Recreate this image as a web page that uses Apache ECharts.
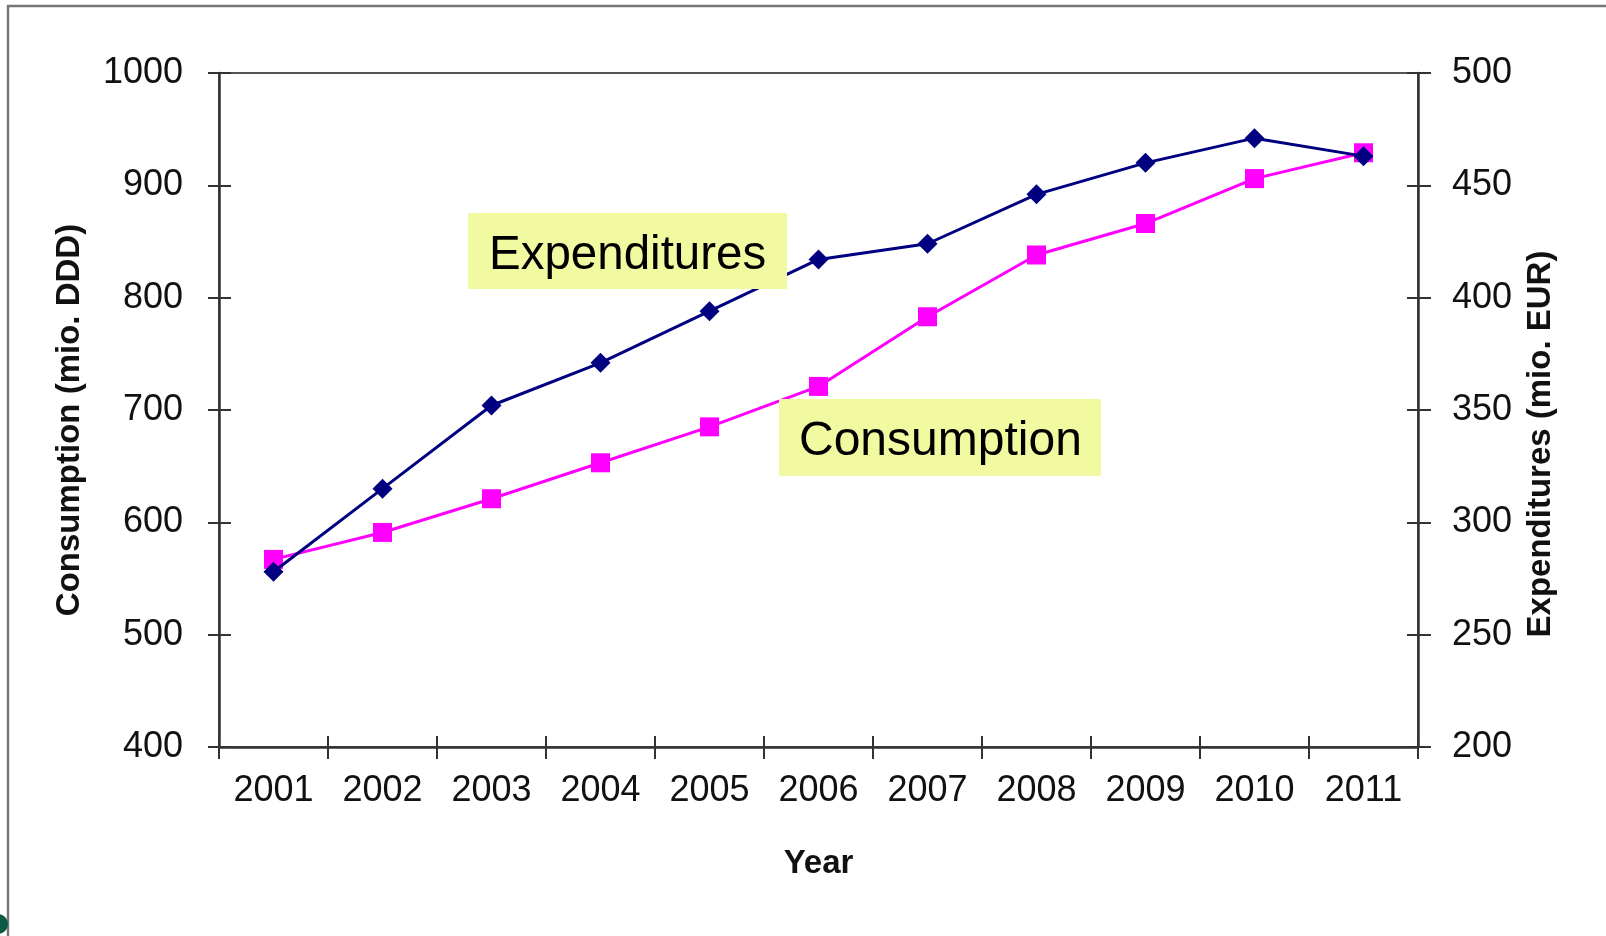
<!DOCTYPE html>
<html>
<head>
<meta charset="utf-8">
<script src="https://cdn.jsdelivr.net/npm/echarts@6/dist/echarts.min.js"></script>
<style>
html,body{margin:0;padding:0;background:#fff;}
#chart{width:1606px;height:936px;}
</style>
</head>
<body>
<div id="chart"></div>
<script>
var years = ['2001','2002','2003','2004','2005','2006','2007','2008','2009','2010','2011'];
var consumption = [567, 591, 621, 653, 685, 721, 783, 838, 866, 906, 929];
var expenditures = [278, 315, 352, 371, 394, 417, 424, 446, 460, 471, 463];
var leftTicks = {min: 400, max: 1000, interval: 100};
var rightTicks = {min: 200, max: 500, interval: 50};

var FONT = '"Liberation Sans", Arial, sans-serif';
var chart = echarts.init(document.getElementById('chart'));

var axisLineStyle = {color: '#333', width: 2.5};
var tickStyle = {color: '#333', width: 2};
var plain = function (v) { return String(v); };

chart.setOption({
  backgroundColor: '#fff',
  animation: false,
  grid: {left: 219, right: 188, top: 73, bottom: 189, show: true, borderColor: '#555', borderWidth: 2, backgroundColor: 'transparent'},
  xAxis: [
    {
      type: 'category', data: years, position: 'bottom', boundaryGap: true,
      name: 'Year', nameLocation: 'middle', nameGap: 100,
      nameTextStyle: {fontFamily: FONT, fontSize: 33, fontWeight: 'bold', color: '#111'},
      axisLine: {show: true, lineStyle: axisLineStyle},
      axisTick: {show: true, inside: false, length: 12, lineStyle: tickStyle},
      axisLabel: {fontFamily: FONT, fontSize: 36, color: '#111', margin: 26},
      splitLine: {show: false}
    },
    {
      type: 'category', data: years, position: 'bottom', boundaryGap: true,
      axisLine: {show: false},
      axisTick: {show: true, inside: true, length: 11, lineStyle: tickStyle},
      axisLabel: {show: false},
      splitLine: {show: false}
    }
  ],
  yAxis: [
    {
      type: 'value', position: 'left', min: leftTicks.min, max: leftTicks.max, interval: leftTicks.interval,
      axisLine: {show: true, lineStyle: axisLineStyle},
      axisTick: {show: true, inside: false, length: 11, lineStyle: tickStyle},
      axisLabel: {fontFamily: FONT, fontSize: 36, color: '#111', margin: 36, formatter: plain},
      splitLine: {show: false}
    },
    {
      type: 'value', position: 'right', min: rightTicks.min, max: rightTicks.max, interval: rightTicks.interval,
      axisLine: {show: true, lineStyle: axisLineStyle},
      axisTick: {show: true, inside: false, length: 13, lineStyle: tickStyle},
      axisLabel: {fontFamily: FONT, fontSize: 36, color: '#111', margin: 34, formatter: plain},
      splitLine: {show: false}
    },
    {
      type: 'value', position: 'left', min: leftTicks.min, max: leftTicks.max, interval: leftTicks.interval,
      axisLine: {show: false},
      axisTick: {show: true, inside: true, length: 12, lineStyle: tickStyle},
      axisLabel: {show: false},
      splitLine: {show: false}
    },
    {
      type: 'value', position: 'right', min: rightTicks.min, max: rightTicks.max, interval: rightTicks.interval,
      axisLine: {show: false},
      axisTick: {show: true, inside: true, length: 11, lineStyle: tickStyle},
      axisLabel: {show: false},
      splitLine: {show: false}
    }
  ],
  series: [
    {
      name: 'Consumption', type: 'line', xAxisIndex: 0, yAxisIndex: 0, data: consumption,
      symbol: 'rect', symbolSize: 19,
      lineStyle: {color: '#FF00FF', width: 3},
      itemStyle: {color: '#FF00FF'},
      z: 3
    },
    {
      name: 'Expenditures', type: 'line', xAxisIndex: 0, yAxisIndex: 1, data: expenditures,
      symbol: 'diamond', symbolSize: 20,
      lineStyle: {color: '#000080', width: 3},
      itemStyle: {color: '#000080'},
      z: 4
    }
  ],
  graphic: [
    {type: 'polyline', shape: {points: [[8, 936], [8, 6], [1606, 6]]}, style: {stroke: '#777', lineWidth: 2.5, fill: null}, z: 1},
    {type: 'circle', shape: {cx: -2, cy: 924, r: 10}, style: {fill: '#0b5a46'}, z: 1},
    {type: 'rect', shape: {x: 468, y: 213, width: 319, height: 76}, style: {fill: '#F1FAA1'}, z: 10},
    {type: 'text', x: 489, y: 256, style: {text: 'Expenditures', font: '47.5px ' + FONT, fill: '#000', textAlign: 'left', textVerticalAlign: 'middle'}, z: 11},
    {type: 'rect', shape: {x: 779, y: 399, width: 322, height: 77}, style: {fill: '#F1FAA1'}, z: 10},
    {type: 'text', x: 799, y: 442, style: {text: 'Consumption', font: '48px ' + FONT, fill: '#000', textAlign: 'left', textVerticalAlign: 'middle'}, z: 11},
    {type: 'text', x: 70, y: 420, rotation: Math.PI / 2, style: {text: 'Consumption (mio. DDD)', font: 'bold 33px ' + FONT, fill: '#111', textAlign: 'center', textVerticalAlign: 'middle'}, z: 11},
    {type: 'text', x: 1541, y: 444, rotation: Math.PI / 2, style: {text: 'Expenditures (mio. EUR)', font: 'bold 33px ' + FONT, fill: '#111', textAlign: 'center', textVerticalAlign: 'middle'}, z: 11}
  ]
});
</script>
</body>
</html>
